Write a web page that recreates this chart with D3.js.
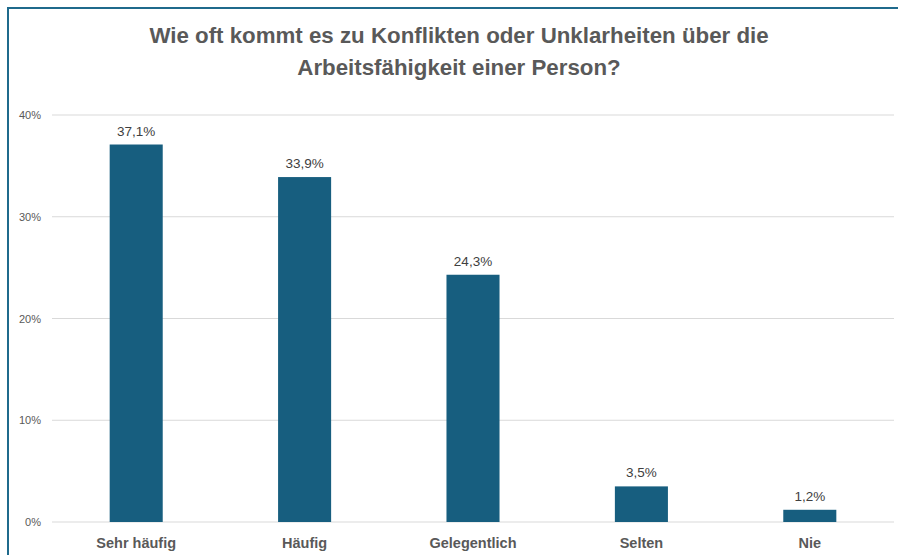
<!DOCTYPE html>
<html>
<head>
<meta charset="utf-8">
<script src="https://cdn.jsdelivr.net/npm/d3@7"></script>
<style>
  html, body { margin: 0; padding: 0; background: #ffffff; }
  svg { display: block; }
</style>
</head>
<body>
<div id="chart"></div>
<script>
const titleLines = ["Wie oft kommt es zu Konflikten oder Unklarheiten über die", "Arbeitsfähigkeit einer Person?"];
const categories = ["Sehr häufig", "Häufig", "Gelegentlich", "Selten", "Nie"];
const values = [37.1, 33.9, 24.3, 3.5, 1.2];
const valueLabels = ["37,1%", "33,9%", "24,3%", "3,5%", "1,2%"];
const yTicks = [0, 10, 20, 30, 40];
const yTickLabels = ["0%", "10%", "20%", "30%", "40%"];

const W = 898, H = 555;
const svg = d3.select("#chart").append("svg").attr("width", W).attr("height", H);

// frame border
svg.append("path")
  .attr("d", `M8,${H} L8,8 L${W},8`)
  .attr("fill", "none")
  .attr("stroke", "#1f6a8c")
  .attr("stroke-width", 2);

const plot = { left: 52, right: 894, top: 115, bottom: 522 };

const x = d3.scaleBand()
  .domain(categories)
  .range([plot.left, plot.right])
  .paddingInner(0.685)
  .paddingOuter(0.3425);

const y = d3.scaleLinear().domain([0, 40]).range([plot.bottom, plot.top]);

// gridlines
svg.append("g").selectAll("line").data(yTicks).join("line")
  .attr("x1", plot.left).attr("x2", plot.right)
  .attr("y1", d => y(d)).attr("y2", d => y(d))
  .attr("stroke", "#d9d9d9").attr("stroke-width", 1);

// y tick labels
svg.append("g").selectAll("text").data(yTicks).join("text")
  .attr("x", 41).attr("y", d => y(d) + 4)
  .attr("text-anchor", "end")
  .attr("font-family", "Liberation Sans, Arial, sans-serif")
  .attr("font-size", 11)
  .attr("fill", "#595959")
  .text((d, i) => yTickLabels[i]);

// bars
svg.append("g").selectAll("rect").data(values).join("rect")
  .attr("x", (d, i) => x(categories[i]))
  .attr("width", x.bandwidth())
  .attr("y", d => y(d))
  .attr("height", d => y(0) - y(d))
  .attr("fill", "#175e7f");

// value labels
svg.append("g").selectAll("text").data(values).join("text")
  .attr("x", (d, i) => x(categories[i]) + x.bandwidth() / 2)
  .attr("y", d => y(d) - 9)
  .attr("text-anchor", "middle")
  .attr("font-family", "Liberation Sans, Arial, sans-serif")
  .attr("font-size", 13.5)
  .attr("fill", "#404040")
  .text((d, i) => valueLabels[i]);

// category labels
svg.append("g").selectAll("text").data(categories).join("text")
  .attr("x", d => x(d) + x.bandwidth() / 2)
  .attr("y", 548)
  .attr("text-anchor", "middle")
  .attr("font-family", "Liberation Sans, Arial, sans-serif")
  .attr("font-size", 14.5)
  .attr("font-weight", "bold")
  .attr("fill", "#595959")
  .text(d => d);

// title
svg.append("g").selectAll("text").data(titleLines).join("text")
  .attr("x", 459)
  .attr("y", (d, i) => 43 + i * 32)
  .attr("text-anchor", "middle")
  .attr("font-family", "Liberation Sans, Arial, sans-serif")
  .attr("font-size", 22.3)
  .attr("font-weight", "bold")
  .attr("fill", "#595959")
  .text(d => d);
</script>
</body>
</html>
